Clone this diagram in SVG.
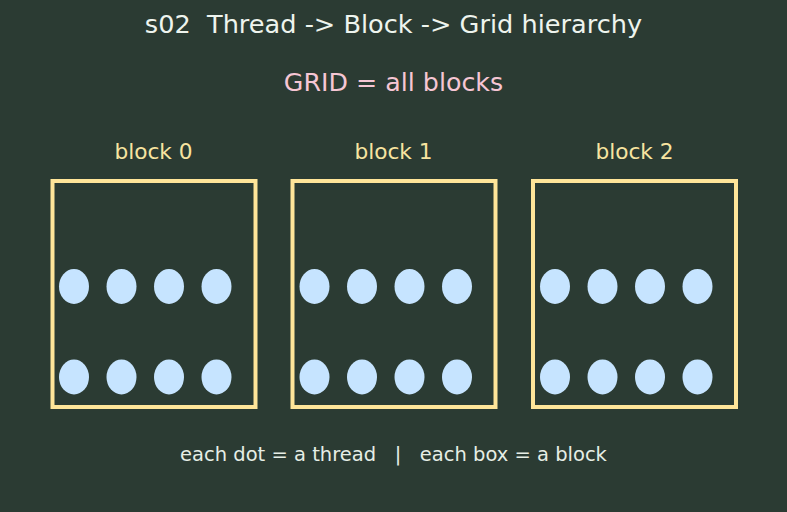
<svg xmlns="http://www.w3.org/2000/svg" width="787" height="512" viewBox="0 0 787 512">
<style>
text{font-family:"DejaVu Sans","Liberation Sans",sans-serif;text-anchor:middle;white-space:pre}
.title{font-size:25.6px;fill:#eef4ee}
.grid{font-size:25.3px;fill:#f6c6d4}
.lbl{font-size:21.7px;fill:#f7e4a0}
.foot{font-size:19.5px;fill:#e6eee6}
.box{fill:none;stroke:#ffe599;stroke-width:4}
.dot{fill:#c6e4ff}
</style>
<rect width="787" height="512" fill="#2b3b33"/>
<text class="title" x="393.5" y="33" xml:space="preserve">s02  Thread -&gt; Block -&gt; Grid hierarchy</text>
<text class="grid" x="393.5" y="91">GRID = all blocks</text>
<defs>
<g id="dots">
<ellipse class="dot" cx="22" cy="105.5" rx="15" ry="17.5"/>
<ellipse class="dot" cx="69.5" cy="105.5" rx="15" ry="17.5"/>
<ellipse class="dot" cx="117" cy="105.5" rx="15" ry="17.5"/>
<ellipse class="dot" cx="164.5" cy="105.5" rx="15" ry="17.5"/>
<ellipse class="dot" cx="22" cy="196" rx="15" ry="17.5"/>
<ellipse class="dot" cx="69.5" cy="196" rx="15" ry="17.5"/>
<ellipse class="dot" cx="117" cy="196" rx="15" ry="17.5"/>
<ellipse class="dot" cx="164.5" cy="196" rx="15" ry="17.5"/>
</g>
</defs>
<g id="block0">
<text class="lbl" x="153.5" y="159">block 0</text>
<rect class="box" x="52.5" y="181" width="203" height="226"/>
<use href="#dots" x="52" y="181"/>
</g>
<g id="block1">
<text class="lbl" x="393.5" y="159">block 1</text>
<rect class="box" x="292.5" y="181" width="203" height="226"/>
<use href="#dots" x="292.5" y="181"/>
</g>
<g id="block2">
<text class="lbl" x="634.5" y="159">block 2</text>
<rect class="box" x="533" y="181" width="203" height="226"/>
<use href="#dots" x="533" y="181"/>
</g>
<g id="connectors"/>
<text class="foot" x="393.5" y="461" xml:space="preserve">each dot = a thread   |   each box = a block</text>
</svg>
